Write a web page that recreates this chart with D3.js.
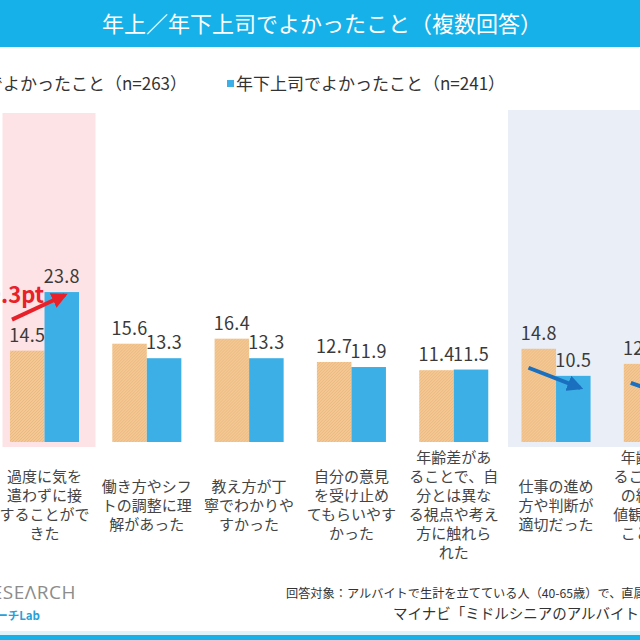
<!DOCTYPE html>
<html lang="ja">
<head>
<meta charset="utf-8">
<script src="https://cdn.jsdelivr.net/npm/d3@7"></script>
<style>
  body { margin: 0; background: #fff; }
  svg { display: block; font-family: "Noto Sans CJK JP", "Noto Sans", sans-serif; }
</style>
</head>
<body>
<script>
var categories = [
  ["過度に気を", "遣わずに接", "することがで", "きた"],
  ["働き方やシフ", "トの調整に理", "解があった"],
  ["教え方が丁", "寧でわかりや", "すかった"],
  ["自分の意見", "を受け止め", "てもらいやす", "かった"],
  ["年齢差があ", "ることで、自", "分とは異な", "る視点や考え", "方に触れら", "れた"],
  ["仕事の進め", "方や判断が", "適切だった"],
  ["年齢差があ", "ることで自分", "の経験や価", "値観を活かす", "ことができ", "た"]
];
var seriesNames = ["年上上司でよかったこと（n=263）", "年下上司でよかったこと（n=241）"];
var olderBoss = [14.5, 15.6, 16.4, 12.7, 11.4, 14.8, 12.4];
var youngerBoss = [23.8, 13.3, 13.3, 11.9, 11.5, 10.5, 8.3];
var colors = ["#f4c892", "#3cb0e6"];

var W = 640, H = 640;
var svg = d3.select("body").append("svg")
    .attr("width", W)
    .attr("height", H);

var defs = svg.append("defs");
var pat = defs.append("pattern")
    .attr("id", "hatch")
    .attr("patternUnits", "userSpaceOnUse")
    .attr("width", 3)
    .attr("height", 3);
pat.append("rect").attr("width", 3).attr("height", 3).attr("fill", colors[0]);
pat.append("path")
    .attr("d", "M0,3 L3,0 M-1,1 L1,-1 M2,4 L4,2")
    .attr("stroke", "#e6b37c")
    .attr("stroke-width", 0.7);

function marker(id, col) {
  defs.append("marker")
      .attr("id", id)
      .attr("viewBox", "0 0 10 10")
      .attr("refX", 8)
      .attr("refY", 5)
      .attr("markerWidth", 4)
      .attr("markerHeight", 4)
      .attr("orient", "auto")
      .append("path")
      .attr("d", "M0,0 L10,5 L0,10 z")
      .attr("fill", col);
}
marker("arrRed", "#e8202a");
marker("arrBlue", "#1b6fbf");

var idx = d3.range(categories.length);
var x = d3.scaleBand()
    .domain(idx)
    .range([-6.65, 709.5])
    .paddingInner(0.325)
    .paddingOuter(0.1625);
var xs = d3.scaleBand()
    .domain([0, 1])
    .range([0, x.bandwidth()]);
var y = d3.scaleLinear()
    .domain([0, 25])
    .range([442, 442 - 25 * 6.3]);

// title bar
svg.append("rect")
    .attr("x", 0).attr("y", 0)
    .attr("width", W).attr("height", 47)
    .attr("fill", "#17b1e9");
svg.append("text")
    .attr("x", 322).attr("y", 32)
    .attr("text-anchor", "middle")
    .attr("fill", "#fff")
    .attr("font-size", 22)
    .text("年上／年下上司でよかったこと（複数回答）");

// highlight bands
svg.append("rect")
    .attr("x", x(0) + x.bandwidth() / 2 - 42)
    .attr("y", 113)
    .attr("width", 93)
    .attr("height", 334)
    .attr("fill", "#fde3e5");
svg.append("rect")
    .attr("x", x(5) + x.bandwidth() / 2 - 48)
    .attr("y", 110)
    .attr("width", 200)
    .attr("height", 337)
    .attr("fill", "#e9eef7");

// legend
svg.append("rect")
    .attr("x", 227).attr("y", 80)
    .attr("width", 7).attr("height", 7)
    .attr("fill", colors[1]);
svg.append("text")
    .attr("x", 236).attr("y", 90)
    .attr("font-size", 17)
    .attr("fill", "#333")
    .text(seriesNames[1]);
svg.append("text")
    .attr("x", 187).attr("y", 90)
    .attr("text-anchor", "end")
    .attr("font-size", 17)
    .attr("fill", "#333")
    .text(seriesNames[0]);
svg.append("rect")
    .attr("x", 187 - 258 - 10).attr("y", 80)
    .attr("width", 7).attr("height", 7)
    .attr("fill", colors[0]);

// bars
var groups = svg.selectAll("g.grp")
    .data(idx)
    .enter()
    .append("g")
    .attr("class", "grp")
    .attr("transform", function (d) { return "translate(" + x(d) + ",0)"; });

groups.each(function (i) {
  var g = d3.select(this);
  var vals = [olderBoss[i], youngerBoss[i]];
  g.selectAll("rect")
      .data(vals)
      .enter()
      .append("rect")
      .attr("x", function (v, k) { return xs(k); })
      .attr("y", function (v) { return y(v); })
      .attr("width", xs.bandwidth())
      .attr("height", function (v) { return y(0) - y(v); })
      .attr("fill", function (v, k) { return k === 0 ? "url(#hatch)" : colors[1]; });
  g.selectAll("text.val")
      .data(vals)
      .enter()
      .append("text")
      .attr("class", "val")
      .attr("x", function (v, k) { return xs(k) + xs.bandwidth() / 2; })
      .attr("y", function (v) { return y(v) - 9; })
      .attr("text-anchor", "middle")
      .attr("font-size", 18)
      .attr("letter-spacing", 0.3)
      .attr("fill", "#3a3a3a")
      .text(function (v) { return v.toFixed(1); });

  var lines = categories[i];
  var cy = 505 - (lines.length - 1) * 19 / 2;
  g.append("text")
      .attr("text-anchor", "middle")
      .attr("font-size", 15)
      .attr("fill", "#444")
      .selectAll("tspan")
      .data(lines)
      .enter()
      .append("tspan")
      .attr("x", x.bandwidth() / 2)
      .attr("y", function (l, j) { return cy + j * 19 + 5.5; })
      .text(function (l) { return l; });
});

// arrows
function bx(i, k) { return x(i) + xs(k) + xs.bandwidth() / 2; }
svg.append("line")
    .attr("x1", x(0) + 2).attr("y1", y(olderBoss[0]) - 31)
    .attr("x2", bx(0, 1) + 3).attr("y2", y(youngerBoss[0]) + 3)
    .attr("stroke", "#e8202a")
    .attr("stroke-width", 4)
    .attr("marker-end", "url(#arrRed)");
svg.append("text")
    .attr("x", 44).attr("y", 303)
    .attr("text-anchor", "end")
    .attr("font-size", 22)
    .attr("font-weight", "bold")
    .attr("fill", "#e8202a")
    .text("+" + (youngerBoss[0] - olderBoss[0]).toFixed(1) + "pt");
[5, 6].forEach(function (i) {
  svg.append("line")
      .attr("x1", x(i) + 7).attr("y1", y(olderBoss[i]) + 19)
      .attr("x2", bx(i, 1) + 7).attr("y2", y(youngerBoss[i]) + 12)
      .attr("stroke", "#1b6fbf")
      .attr("stroke-width", 4)
      .attr("marker-end", "url(#arrBlue)");
});

// footer
svg.append("text")
    .attr("x", 76).attr("y", 599)
    .attr("text-anchor", "end")
    .attr("font-size", 19)
    .attr("letter-spacing", 0.5)
    .attr("fill", "#8c8c8c")
    .attr("font-family", "Open Sans, sans-serif")
    .text("RESEΛRCH");
svg.append("text")
    .attr("x", 40).attr("y", 620)
    .attr("text-anchor", "end")
    .attr("font-size", 11.5)
    .attr("font-weight", "bold")
    .attr("fill", "#2a9fd8")
    .text("リサーチLab");
svg.append("text")
    .attr("x", 286).attr("y", 598)
    .attr("font-size", 12.2)
    .attr("fill", "#333")
    .text("回答対象：アルバイトで生計を立てている人（40-65歳）で、直属の上司がいる人");
svg.append("text")
    .attr("x", 393).attr("y", 619)
    .attr("font-size", 14.5)
    .attr("fill", "#333")
    .text("マイナビ「ミドルシニアのアルバイトと上司に関する調査」");
svg.append("rect")
    .attr("x", 0).attr("y", 631)
    .attr("width", W).attr("height", 4)
    .attr("fill", "#dff3fb");
svg.append("rect")
    .attr("x", 0).attr("y", 635)
    .attr("width", W).attr("height", 5)
    .attr("fill", "#17b1e9");
</script>
</body>
</html>
